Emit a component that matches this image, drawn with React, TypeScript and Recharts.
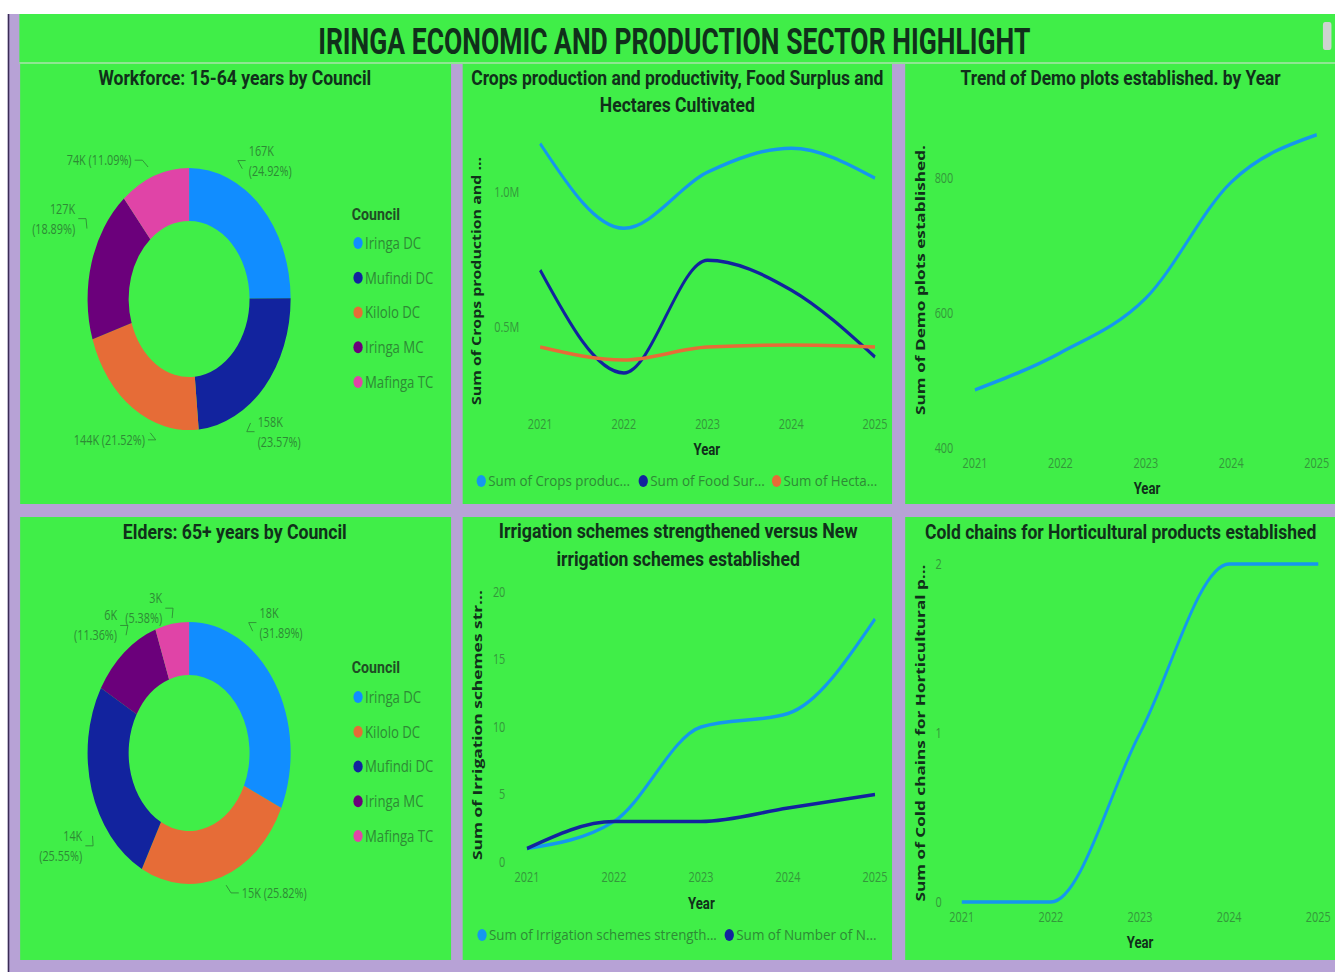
import React from "react";
import { PieChart, Pie, Cell, LineChart, Line, XAxis, YAxis } from "recharts";

// values
const years = ["2021", "2022", "2023", "2024", "2025"];

const workforceCouncils = ["Iringa DC", "Mufindi DC", "Kilolo DC", "Iringa MC", "Mafinga TC"];
const workforceValues = [166960, 157920, 144180, 126560, 74300];

const elderCouncils = ["Iringa DC", "Kilolo DC", "Mufindi DC", "Iringa MC", "Mafinga TC"];
const elderValues = [17986, 14562, 14410, 6407, 3034];

const cropsProduction = [1180000, 866000, 1074000, 1163000, 1052000];
const foodSurplus = [711000, 330000, 748000, 637000, 389000];
const hectaresCultivated = [426000, 378000, 426000, 433000, 426000];
const cropsLegend = ["Sum of Crops produc...", "Sum of Food Sur...", "Sum of Hecta..."];
const cropsTicks = [500000, 1000000];

const demoPlots = [486, 541, 622, 794, 864];
const demoTicks = [400, 600, 800];

const irrigationStrengthened = [1, 3, 10, 11, 18];
const newIrrigation = [1, 3, 3, 4, 5];
const irrigationLegend = ["Sum of Irrigation schemes strength...", "Sum of Number of N..."];
const irrigationTicks = [0, 5, 10, 15, 20];

const coldChains = [0, 0, 1, 2, 2];
const coldTicks = [0, 1, 2];

// the screenshot is squeezed horizontally, so draw wide and scale x
const S = 0.775;
const W = 1723;

const GREEN = "#40ee48";
const LAVENDER = "#b7a2d6";
const INK = "#10301a";
const FAINT = "#2e8a35";
const TICK = "#34973b";
const LINE_BLUE = "#1597ee";

const councilColors: Record<string, string> = {
  "Iringa DC": "#118DFF",
  "Mufindi DC": "#12239E",
  "Kilolo DC": "#E66C37",
  "Iringa MC": "#6B007B",
  "Mafinga TC": "#E044A7",
};

const cols = [[26, 582], [597, 1151], [1168, 1723]];
const rows = [[64, 504], [517, 960]];

type Box = { l: number; r: number; t: number; b: number };
type SeriesDef = { values: number[]; color: string };

const Txt = ({ x, y, size, len, weight = 700, fill = INK, anchor = "middle", rotate = false, family = "Roboto", children }: any) => (
  <text
    x={x}
    y={y}
    fontSize={size}
    fontWeight={weight}
    fill={fill}
    textAnchor={anchor}
    fontFamily={family}
    textLength={len}
    lengthAdjust={len ? "spacingAndGlyphs" : undefined}
    transform={rotate ? `rotate(-90 ${x} ${y})` : undefined}
  >
    {children}
  </text>
);

function Trend({ box, plot, series, domain, ticks, yTickMargin, xTickMargin, fmt }: {
  box: Box; plot: Box; series: SeriesDef[]; domain: [number, number]; ticks: number[];
  yTickMargin: number; xTickMargin: number; fmt?: (v: number) => string;
}) {
  const data = years.map((year, i) => {
    const row: Record<string, string | number> = { year };
    series.forEach((s, k) => { row["s" + k] = s.values[i]; });
    return row;
  });
  const tick = { fill: TICK, fontSize: 14, fontFamily: "'Open Sans', sans-serif" };
  return (
    <div style={{ position: "absolute", left: box.l, top: box.t }}>
      <LineChart
        width={box.r - box.l}
        height={box.b - box.t}
        data={data}
        margin={{ top: plot.t - box.t, right: box.r - plot.r, bottom: 0, left: 0 }}
      >
        <XAxis dataKey="year" height={box.b - plot.b} axisLine={false} tickLine={false} tickSize={0}
          tickMargin={xTickMargin} tick={tick} interval={0} />
        <YAxis type="number" width={plot.l - box.l} domain={domain} ticks={ticks} axisLine={false}
          tickLine={false} tickSize={0} tickMargin={yTickMargin} tick={tick} tickFormatter={fmt} interval={0} />
        {series.map((s, k) => (
          <Line key={k} dataKey={"s" + k} type="monotone" stroke={s.color} strokeWidth={3.5}
            dot={false} activeDot={false} isAnimationActive={false} />
        ))}
      </LineChart>
    </div>
  );
}

function CouncilDonut({ box, cx, cy, names, values, nudges, wrapped }: {
  box: Box; cx: number; cy: number; names: string[]; values: number[];
  nudges: number[][]; wrapped: boolean[];
}) {
  const data = names.map((name, i) => ({ name, value: values[i] }));

  const label = (p: any) => {
    const { cx: pcx, cy: pcy, midAngle, outerRadius, percent, value, index } = p;
    const rad = (midAngle * Math.PI) / 180;
    const ux = Math.cos(rad);
    const uy = -Math.sin(rad);
    const side = ux >= 0 ? 1 : -1;
    const ax = pcx + (outerRadius + 22) * ux;
    const ay = pcy + (outerRadius + 22) * uy;
    const tx = ax + side * 13 + nudges[index][0];
    const ty = ay + nudges[index][1];
    const ex = pcx + (outerRadius + 2) * ux;
    const ey = pcy + (outerRadius + 2) * uy;
    const p2x = tx - side * 4;
    const p1x = p2x - side * 10;
    const dx = ex - p1x;
    const dy = ey - ty;
    const d = Math.hypot(dx, dy) || 1;
    const hook = Math.min(10, d);
    const k = `${Math.round(value / 1000)}K`;
    const pct = `(${(percent * 100).toFixed(2)}%)`;
    const anchor = side > 0 ? "start" : "end";
    const font = { fontSize: 14, fontFamily: "'Open Sans', sans-serif", fill: FAINT };
    return (
      <g>
        <polyline
          points={`${p1x + (dx / d) * hook},${ty + (dy / d) * hook} ${p1x},${ty} ${p2x},${ty}`}
          fill="none" stroke={FAINT} strokeWidth={1}
        />
        {wrapped[index] ? (
          <>
            <text x={tx} y={ty - 5} textAnchor={anchor} {...font}>{k}</text>
            <text x={tx} y={ty + 15} textAnchor={anchor} {...font}>{pct}</text>
          </>
        ) : (
          <text x={tx} y={ty + 5} textAnchor={anchor} {...font}>{`${k} ${pct}`}</text>
        )}
      </g>
    );
  };

  return (
    <div style={{ position: "absolute", left: box.l, top: box.t }}>
      <PieChart width={box.r - box.l} height={box.b - box.t} margin={{ top: 0, right: 0, bottom: 0, left: 0 }}>
        <Pie
          data={data}
          dataKey="value"
          nameKey="name"
          cx={cx - box.l}
          cy={cy - box.t}
          innerRadius={78}
          outerRadius={131}
          startAngle={90}
          endAngle={-270}
          stroke="none"
          label={label}
          labelLine={false}
          isAnimationActive={false}
        >
          {data.map((d) => (
            <Cell key={d.name} fill={councilColors[d.name]} />
          ))}
        </Pie>
      </PieChart>
    </div>
  );
}

function CouncilLegend({ x, titleY, firstY, names }: { x: number; titleY: number; firstY: number; names: string[] }) {
  return (
    <g>
      <Txt x={x} y={titleY} size={16} anchor="start" fill="#1f4d24" len={62}>Council</Txt>
      {names.map((n, i) => (
        <g key={n}>
          <circle cx={x + 8} cy={firstY + i * 34.75} r={6} fill={councilColors[n]} />
          <text x={x + 17} y={firstY + i * 34.75 + 6} fontSize={17} fill={FAINT} fontFamily="'Open Sans', sans-serif">{n}</text>
        </g>
      ))}
    </g>
  );
}

function SeriesLegend({ y, items }: { y: number; items: { dot: number; len: number; color: string; label: string }[] }) {
  return (
    <g>
      {items.map((it) => (
        <g key={it.label}>
          <circle cx={it.dot} cy={y} r={6} fill={it.color} />
          <text x={it.dot + 9} y={y + 5} fontSize={15} fill={FAINT} fontFamily="'Open Sans', sans-serif"
            textLength={it.len} lengthAdjust="spacingAndGlyphs">{it.label}</text>
        </g>
      ))}
    </g>
  );
}

const panel = (c: number, r: number): Box => ({ l: cols[c][0], r: cols[c][1], t: rows[r][0], b: rows[r][1] });

export default function App() {
  return (
    <div style={{ position: "absolute", left: 0, top: 0, width: 1335, height: 972, overflow: "hidden", background: "#fff" }}>
      <div style={{ position: "absolute", left: 0, top: 0, width: W, height: 972, transform: `scaleX(${S})`, transformOrigin: "0 0" }}>
        {/* frame */}
        <div style={{ position: "absolute", left: 10, top: 14, width: W - 10, height: 958, background: LAVENDER }} />
        <div style={{ position: "absolute", left: 10, top: 14, width: 2, height: 958, background: "#3b2c57" }} />
        <div style={{ position: "absolute", left: 25, top: 14, width: W - 25, height: 48, background: GREEN }} />
        <div style={{ position: "absolute", left: 25, top: 62, width: W - 25, height: 2, background: "#8fe693" }} />
        {rows.map((r, ri) =>
          cols.map((c, ci) => (
            <div key={`${ri}-${ci}`} style={{ position: "absolute", left: c[0], top: r[0], width: c[1] - c[0], height: r[1] - r[0], background: GREEN }} />
          ))
        )}

        <CouncilDonut box={panel(0, 0)} cx={244} cy={299} names={workforceCouncils} values={workforceValues}
          nudges={[[-44, -30], [-38, 30], [40, 13], [13, -38], [-9, 5]]}
          wrapped={[true, true, false, true, false]} />
        <CouncilDonut box={panel(0, 1)} cx={244} cy={753} names={elderCouncils} values={elderValues}
          nudges={[[-51, -48], [6, -5], [22, 50], [18, -10], [4, 6]]}
          wrapped={[true, false, true, true, true]} />

        <Trend box={panel(1, 0)} plot={{ l: 697, r: 1129, t: 118, b: 412 }}
          series={[
            { values: cropsProduction, color: LINE_BLUE },
            { values: foodSurplus, color: "#12239E" },
            { values: hectaresCultivated, color: "#E66C37" },
          ]}
          domain={[185000, 1275000]} ticks={cropsTicks} yTickMargin={27} xTickMargin={7}
          fmt={(v) => `${(v / 1000000).toFixed(1)}M`} />
        <Trend box={panel(2, 0)} plot={{ l: 1258, r: 1699, t: 110.5, b: 448 }}
          series={[{ values: demoPlots, color: LINE_BLUE }]}
          domain={[400, 900]} ticks={demoTicks} yTickMargin={28} xTickMargin={10} />
        <Trend box={panel(1, 1)} plot={{ l: 680, r: 1129, t: 592, b: 862 }}
          series={[
            { values: irrigationStrengthened, color: LINE_BLUE },
            { values: newIrrigation, color: "#12239E" },
          ]}
          domain={[0, 20]} ticks={irrigationTicks} yTickMargin={28} xTickMargin={10} />
        <Trend box={panel(2, 1)} plot={{ l: 1241, r: 1701, t: 564, b: 902 }}
          series={[{ values: coldChains, color: LINE_BLUE }]}
          domain={[0, 2]} ticks={coldTicks} yTickMargin={26} xTickMargin={10} />

        <svg width={W} height={972} style={{ position: "absolute", left: 0, top: 0, pointerEvents: "none" }}>
          <rect x={1707} y={22} width={11} height={28} rx={3} fill="#cdd3d0" />
          <Txt x={870} y={54} size={37} len={919}>IRINGA ECONOMIC AND PRODUCTION SECTOR HIGHLIGHT</Txt>

          <Txt x={303} y={85} size={20} len={352}>Workforce: 15-64 years by Council</Txt>
          <Txt x={874} y={85} size={20} len={532}>Crops production and productivity, Food Surplus and</Txt>
          <Txt x={874} y={112} size={20} len={200}>Hectares Cultivated</Txt>
          <Txt x={1446} y={85} size={20} len={413}>Trend of Demo plots established. by Year</Txt>
          <Txt x={303} y={539} size={20} len={289}>Elders: 65+ years by Council</Txt>
          <Txt x={875} y={538} size={20} len={463}>Irrigation schemes strengthened versus New</Txt>
          <Txt x={875} y={566} size={20} len={314}>irrigation schemes established</Txt>
          <Txt x={1446} y={539} size={20} len={505}>Cold chains for Horticultural products established</Txt>

          <Txt x={621} y={281} size={16} len={248} rotate family="'Open Sans', sans-serif">Sum of Crops production and ...</Txt>
          <Txt x={1193} y={280} size={16} len={270} rotate family="'Open Sans', sans-serif">Sum of Demo plots established.</Txt>
          <Txt x={622} y={725} size={16} len={270} rotate family="'Open Sans', sans-serif">Sum of Irrigation schemes str...</Txt>
          <Txt x={1193} y={733} size={16} len={337} rotate family="'Open Sans', sans-serif">Sum of Cold chains for Horticultural p...</Txt>

          <Txt x={912} y={455} size={17}>Year</Txt>
          <Txt x={1480} y={494} size={17}>Year</Txt>
          <Txt x={905} y={909} size={17}>Year</Txt>
          <Txt x={1471} y={948} size={17}>Year</Txt>

          <CouncilLegend x={454} titleY={220} firstY={243} names={workforceCouncils} />
          <CouncilLegend x={454} titleY={673} firstY={697} names={elderCouncils} />

          <SeriesLegend y={481} items={[
            { dot: 621, len: 183, color: LINE_BLUE, label: cropsLegend[0] },
            { dot: 830, len: 148, color: "#12239E", label: cropsLegend[1] },
            { dot: 1002, len: 121, color: "#E66C37", label: cropsLegend[2] },
          ]} />
          <SeriesLegend y={935} items={[
            { dot: 622, len: 294, color: LINE_BLUE, label: irrigationLegend[0] },
            { dot: 941, len: 181, color: "#12239E", label: irrigationLegend[1] },
          ]} />
        </svg>
      </div>
    </div>
  );
}
